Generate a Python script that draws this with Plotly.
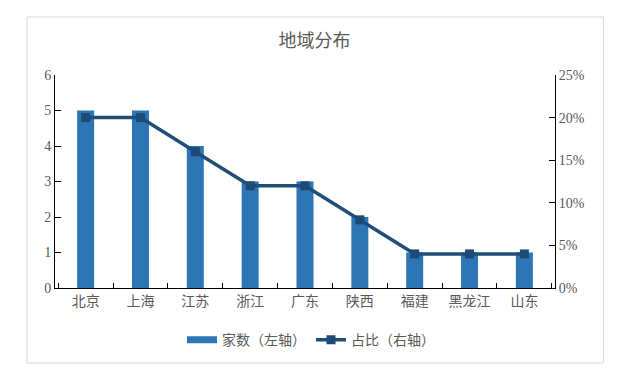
import plotly.graph_objects as go

categories = ["北京", "上海", "江苏", "浙江", "广东", "陕西", "福建", "黑龙江", "山东"]
counts = [5, 5, 4, 3, 3, 2, 1, 1, 1]
shares = [0.20, 0.20, 0.16, 0.12, 0.12, 0.08, 0.04, 0.04, 0.04]

NUMFONT = "Liberation Serif, Times New Roman, serif"
CJK = "Noto Sans CJK SC, Noto Sans, sans-serif"
TXT = "#595959"
BAR = "#2E75B6"
LINE = "#1F4E79"

fig = go.Figure()
fig.add_trace(go.Bar(
    x=categories, y=counts, name="家数（左轴）",
    marker=dict(color=BAR, line=dict(width=0)),
    yaxis="y", showlegend=False,
))
# legend swatch for the bars (wide rectangle like the reference)
fig.add_trace(go.Scatter(
    x=[None], y=[None], name="家数（左轴）", mode="lines",
    line=dict(color=BAR, width=7), yaxis="y",
))
fig.add_trace(go.Scatter(
    x=categories, y=shares, name="占比（右轴）",
    mode="lines+markers",
    line=dict(color=LINE, width=3.5),
    marker=dict(symbol="square", size=9, color="#1E4A76"),
    yaxis="y2",
))

L, T, W, H = 47, 67, 500, 213
fig.update_layout(
    width=632, height=381,
    margin=dict(l=L, r=632 - L - W, t=T, b=381 - T - H, autoexpand=False),
    paper_bgcolor="white", plot_bgcolor="white",
    font=dict(family=NUMFONT, size=14, color=TXT),
    title=dict(text="地域分布", x=(306.5 - L) / W, xanchor="center", xref="paper",
               y=1 - 33 / 381, yanchor="middle",
               font=dict(size=18, color=TXT, family=CJK)),
    bargap=0.69,
    showlegend=True,
    legend=dict(orientation="h", x=(303 - L) / W, xanchor="center", xref="paper",
                y=-0.245, yanchor="middle",
                font=dict(size=14, color=TXT, family=CJK), itemwidth=30,
                bgcolor="rgba(0,0,0,0)"),
    xaxis=dict(showline=True, linecolor="black", linewidth=1,
               ticks="inside", ticklen=5, tickcolor="black", tickson="boundaries",
               showgrid=False, tickangle=0,
               tickfont=dict(size=14, color=TXT, family=CJK)),
    yaxis=dict(range=[0, 6], dtick=1, showline=True, linecolor="black", linewidth=1,
               ticks="inside", ticklen=6, tickcolor="black", showgrid=False,
               zeroline=False, tickfont=dict(size=14, color=TXT, family=NUMFONT)),
    yaxis2=dict(range=[0, 0.25], dtick=0.05, tickformat=".0%", overlaying="y",
                side="right", showline=True, linecolor="black", linewidth=1,
                ticks="inside", ticklen=6, tickcolor="black", showgrid=False,
                zeroline=False, tickfont=dict(size=14, color=TXT, family=NUMFONT)),
    shapes=[dict(type="rect", xref="paper", yref="paper",
                 x0=(27 - 8 - L) / W, x1=(603.5 - 8 - L) / W,
                 y0=(T + H - (363 - 8)) / H, y1=(T + H - (17 - 8)) / H,
                 line=dict(color="#D9D9D9", width=1), fillcolor="rgba(0,0,0,0)",
                 layer="below")],
)

fig.write_html("out.html")
